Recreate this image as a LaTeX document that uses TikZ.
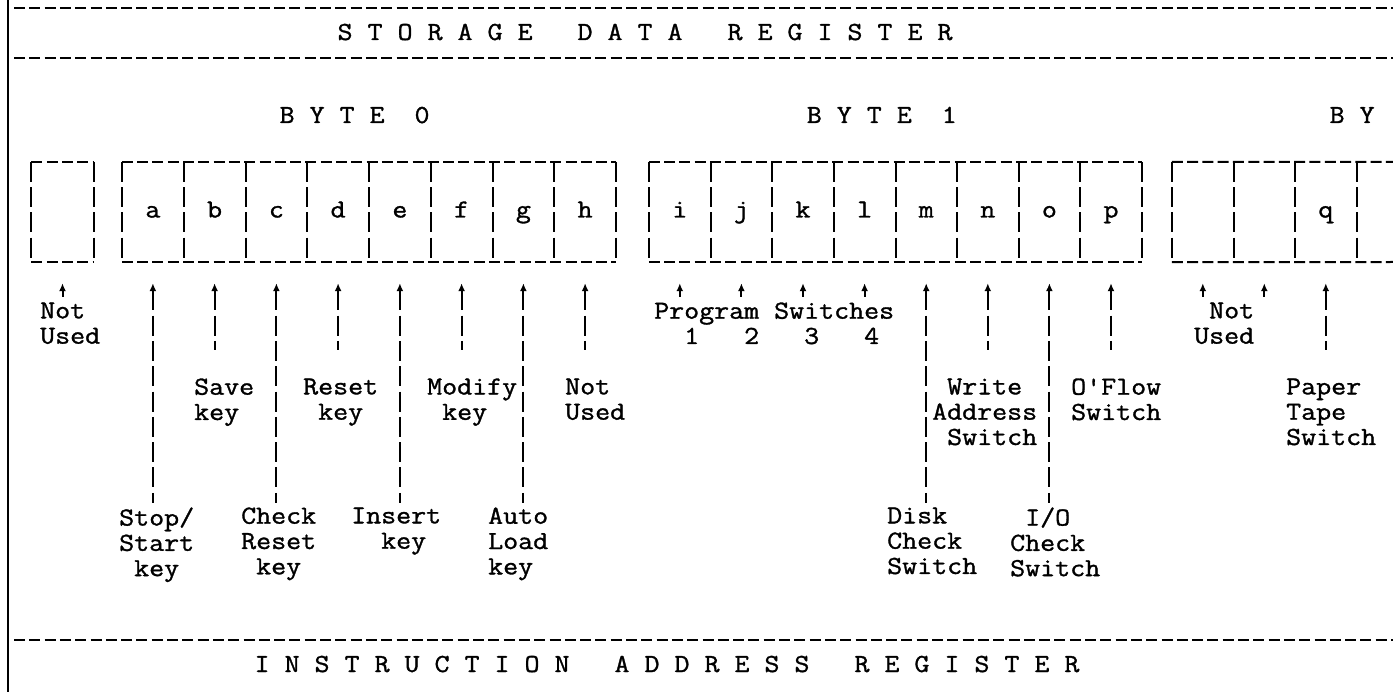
\documentclass[tikz,border=0pt]{standalone}
\usepackage{fontspec}
\setmonofont{Latin Modern Mono}[FakeStretch=1.12,FakeBold=1.2]
\usetikzlibrary{arrows.meta}
\newcommand\tsp{\hphantom{0}}
\begin{document}
\begin{tikzpicture}[x=1pt,y=-1pt,
  tt/.style={font=\ttfamily\fontsize{26}{25.3}\selectfont, inner sep=0pt},
  lbl/.style={tt, align=left, anchor=north west, execute at begin node=\strut},
  cell/.style={tt, minimum width=61.7pt, minimum height=100pt, text height=11pt, text depth=0pt},
  hrule/.style={line width=2pt, dash pattern=on 11pt off 4.3pt},
  vrule/.style={line width=2pt, dash pattern=on 20pt off 5.3pt},
  arr/.style={line width=2pt, dash pattern=on 20pt off 5.3pt, {Latex[length=8pt,width=7pt]}-, shorten <=21pt},
  short/.style={shorten >=28pt},
  long/.style={shorten >=4.3pt},
  stub/.style={shorten >=5.3pt}]
\fill[white] (0,0) rectangle (1393,692);
\useasboundingbox (0,0) rectangle (1393,692);
% frame and rules
\coordinate (lt) at (8,0); \coordinate (lb) at (8,692);
\draw[line width=2.4pt] (lt) -- (lb);
\coordinate (r1l) at (14,8);   \coordinate (r1r) at (1393,8);
\coordinate (r2l) at (14,58);  \coordinate (r2r) at (1393,58);
\coordinate (r3l) at (14,640); \coordinate (r3r) at (1393,640);
\draw[hrule] (r1l) -- (r1r);
\draw[hrule] (r2l) -- (r2r);
\draw[hrule] (r3l) -- (r3r);
% titles
\node[tt, anchor=base west] (title) at (337.4,40) {S\tsp T\tsp O\tsp R\tsp A\tsp G\tsp E\tsp\tsp\tsp D\tsp A\tsp T\tsp A\tsp\tsp\tsp R\tsp E\tsp G\tsp I\tsp S\tsp T\tsp E\tsp R};
\node[tt, anchor=base west] (byte0) at (279.4,123) {B\tsp Y\tsp T\tsp E\tsp\tsp 0};
\node[tt, anchor=base west] (byte1) at (806.6,123) {B\tsp Y\tsp T\tsp E\tsp\tsp 1};
\node[tt, anchor=base west] (byte2) at (1329.4,123) {B\tsp Y};
\node[tt, anchor=base west] (iar) at (254.4,672) {I\tsp N\tsp S\tsp T\tsp R\tsp U\tsp C\tsp T\tsp I\tsp O\tsp N\tsp\tsp\tsp A\tsp D\tsp D\tsp R\tsp E\tsp S\tsp S\tsp\tsp\tsp R\tsp E\tsp G\tsp I\tsp S\tsp T\tsp E\tsp R};
% cells
\node[cell] (u0) at (62.5,212) {};
\node[cell] (a) at (152.9,212) {a};
\node[cell] (b) at (214.6,212) {b};
\node[cell] (c) at (276.4,212) {c};
\node[cell] (d) at (338.1,212) {d};
\node[cell] (e) at (399.9,212) {e};
\node[cell] (f) at (461.6,212) {f};
\node[cell] (g) at (523.4,212) {g};
\node[cell] (h) at (585.1,212) {h};
\node[cell] (i) at (679.8,212) {i};
\node[cell] (j) at (741.4,212) {j};
\node[cell] (k) at (803.0,212) {k};
\node[cell] (l) at (864.6,212) {l};
\node[cell] (m) at (926.2,212) {m};
\node[cell] (n) at (987.8,212) {n};
\node[cell] (o) at (1049.4,212) {o};
\node[cell] (p) at (1111.0,212) {p};
\node[cell] (s1) at (1202.8,212) {};
\node[cell] (s2) at (1264.3,212) {};
\node[cell] (q) at (1325.8,212) {q};
\coordinate (et) at (1393,162); \coordinate (eb) at (1393,262);
% box outlines
\draw[hrule] (u0.north west) -- (u0.north east);
\draw[hrule] (u0.south west) -- (u0.south east);
\draw[vrule] (u0.north west) -- (u0.south west);
\draw[vrule] (u0.north east) -- (u0.south east);
\draw[hrule] (a.north west) -- (h.north east);
\draw[hrule] (a.south west) -- (h.south east);
\draw[vrule] (a.north west) -- (a.south west);
\foreach \x in {a,b,c,d,e,f,g,h} \draw[vrule] (\x.north east) -- (\x.south east);
\draw[hrule] (i.north west) -- (p.north east);
\draw[hrule] (i.south west) -- (p.south east);
\draw[vrule] (i.north west) -- (i.south west);
\foreach \x in {i,j,k,l,m,n,o,p} \draw[vrule] (\x.north east) -- (\x.south east);
\draw[hrule] (s1.north west) -- (et);
\draw[hrule] (s1.south west) -- (eb);
\draw[vrule] (s1.north west) -- (s1.south west);
\foreach \x in {s1,s2,q} \draw[vrule] (\x.north east) -- (\x.south east);
% labels
\node[lbl] (nu0) at (40,302.3) {Not\\Used};
\node[lbl] (ssk) at (119,507.3) {Stop/\\Start\\\tsp key};
\node[lbl] (svk) at (194,378.3) {Save\\key};
\node[lbl] (crk) at (241,507.3) {Check\\Reset\\\tsp key};
\node[lbl] (rsk) at (303,378.3) {Reset\\\tsp key};
\node[lbl] (ink) at (351,507.3) {Insert\\\tsp\tsp key};
\node[lbl] (mdk) at (427,378.3) {Modify\\\tsp key};
\node[lbl] (alk) at (488,507.3) {Auto\\Load\\key};
\node[lbl] (nuh) at (565,378.3) {Not\\Used};
\node[lbl] (prg) at (654,302.3) {Program\tsp Switches\\\tsp\tsp 1\tsp\tsp\tsp 2\tsp\tsp\tsp 3\tsp\tsp\tsp 4};
\node[lbl] (dcs) at (887,507.3) {Disk\\Check\\Switch};
\node[lbl] (was) at (932,378.3) {\tsp Write\\Address\\\tsp Switch};
\node[lbl] (ios) at (1010,507.3) {\tsp I/O\\Check\\Switch};
\node[lbl] (ofs) at (1071,378.3) {O'Flow\\Switch};
\node[lbl] (nu2) at (1194,302.3) {\tsp Not\\Used};
\node[lbl] (pts) at (1286,378.3) {Paper\\Tape\\Switch};
% connectors
\draw[arr, stub] (u0.south) -- (u0.south |- nu0.north);
\draw[arr, long] (a.south) -- (a.south |- ssk.north);
\draw[arr, short] (b.south) -- (b.south |- svk.north);
\draw[arr, long] (c.south) -- (c.south |- crk.north);
\draw[arr, short] (d.south) -- (d.south |- rsk.north);
\draw[arr, long] (e.south) -- (e.south |- ink.north);
\draw[arr, short] (f.south) -- (f.south |- mdk.north);
\draw[arr, long] (g.south) -- (g.south |- alk.north);
\draw[arr, short] (h.south) -- (h.south |- nuh.north);
\foreach \x in {i,j,k,l} \draw[arr, stub] (\x.south) -- (\x.south |- prg.north);
\draw[arr, long] (m.south) -- (m.south |- dcs.north);
\draw[arr, short] (n.south) -- (n.south |- was.north);
\draw[arr, long] (o.south) -- (o.south |- ios.north);
\draw[arr, short] (p.south) -- (p.south |- ofs.north);
\draw[arr, stub] (s1.south) -- (s1.south |- nu2.north);
\draw[arr, stub] (s2.south) -- (s2.south |- nu2.north);
\draw[arr, short] (q.south) -- (q.south |- pts.north);
\end{tikzpicture}
\end{document}
